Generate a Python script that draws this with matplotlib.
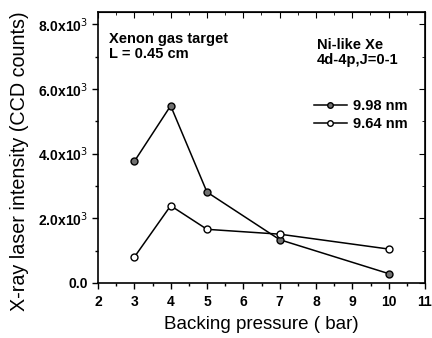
import matplotlib
matplotlib.use("Agg")
import matplotlib.pyplot as plt
from matplotlib.ticker import MultipleLocator, FuncFormatter

pressure = [3, 4, 5, 7, 10]
i_998 = [3760, 5480, 2810, 1340, 290]
i_964 = [800, 2390, 1660, 1510, 1050]
series_labels = ["9.98 nm", "9.64 nm"]

plt.rcParams['font.family'] = ['Liberation Sans', 'DejaVu Sans']

fig = plt.figure(figsize=(4.32, 3.38), dpi=100)
ax = fig.add_axes([98/432, 1-283/338, (425-98)/432, (283-12)/338])

ax.plot(pressure, i_998, '-o', color='black', lw=1.1, ms=5,
        mfc='#707070', mec='black', mew=1.0, label=series_labels[0])
ax.plot(pressure, i_964, '-o', color='black', lw=1.1, ms=5,
        mfc='white', mec='black', mew=1.0, label=series_labels[1])

ax.set_xlim(2, 11)
ax.set_ylim(0, 8380)
ax.xaxis.set_major_locator(MultipleLocator(1))
ax.xaxis.set_minor_locator(MultipleLocator(0.5))
ax.yaxis.set_major_locator(MultipleLocator(2000))
ax.yaxis.set_minor_locator(MultipleLocator(1000))
ax.yaxis.set_major_formatter(FuncFormatter(
    lambda v, p: ("%.1fx10$^{3}$" % (v/1000)) if v > 0 else "0.0"))

ax.tick_params(which='both', direction='out', top=False, right=False, width=1.0)
ax.tick_params(which='major', length=4, labelsize=10)
ax.tick_params(axis='x', which='major', pad=5)
ax.tick_params(which='minor', length=2)
for lab in ax.get_xticklabels() + ax.get_yticklabels():
    lab.set_fontweight('bold')
for s in ax.spines.values():
    s.set_linewidth(1.2)

sec_x = ax.secondary_xaxis('top')
sec_x.xaxis.set_major_locator(MultipleLocator(1))
sec_x.xaxis.set_minor_locator(MultipleLocator(0.5))
sec_x.tick_params(which='both', direction='in', labeltop=False)
sec_x.tick_params(which='major', length=4)
sec_x.tick_params(which='minor', length=2)
sec_y = ax.secondary_yaxis('right')
sec_y.yaxis.set_major_locator(MultipleLocator(2000))
sec_y.yaxis.set_minor_locator(MultipleLocator(1000))
sec_y.tick_params(which='both', direction='in', labelright=False)
sec_y.tick_params(which='major', length=4)
sec_y.tick_params(which='minor', length=2)

ax.set_xlabel("Backing pressure ( bar)", fontsize=13.5, labelpad=5)
ax.set_ylabel("X-ray laser intensity (CCD counts)", fontsize=14.2)
ax.yaxis.set_label_coords(-0.212, 0.45)

ax.text(0.035, 0.925, "Xenon gas target\nL = 0.45 cm", transform=ax.transAxes,
        fontsize=10.5, fontweight='bold', va='top', ha='left', linespacing=1.05)
ax.text(0.67, 0.905, "Ni-like Xe\n4d-4p,J=0-1", transform=ax.transAxes,
        fontsize=10.5, fontweight='bold', va='top', ha='left', linespacing=1.15)

leg = ax.legend(loc='upper right', bbox_to_anchor=(0.965, 0.70), frameon=False,
                fontsize=10.5, handlelength=2.3, handletextpad=0.4,
                labelspacing=0.25, borderaxespad=0, markerscale=0.8)
for t in leg.get_texts():
    t.set_fontweight('bold')

fig.savefig("out.png", dpi=100)
